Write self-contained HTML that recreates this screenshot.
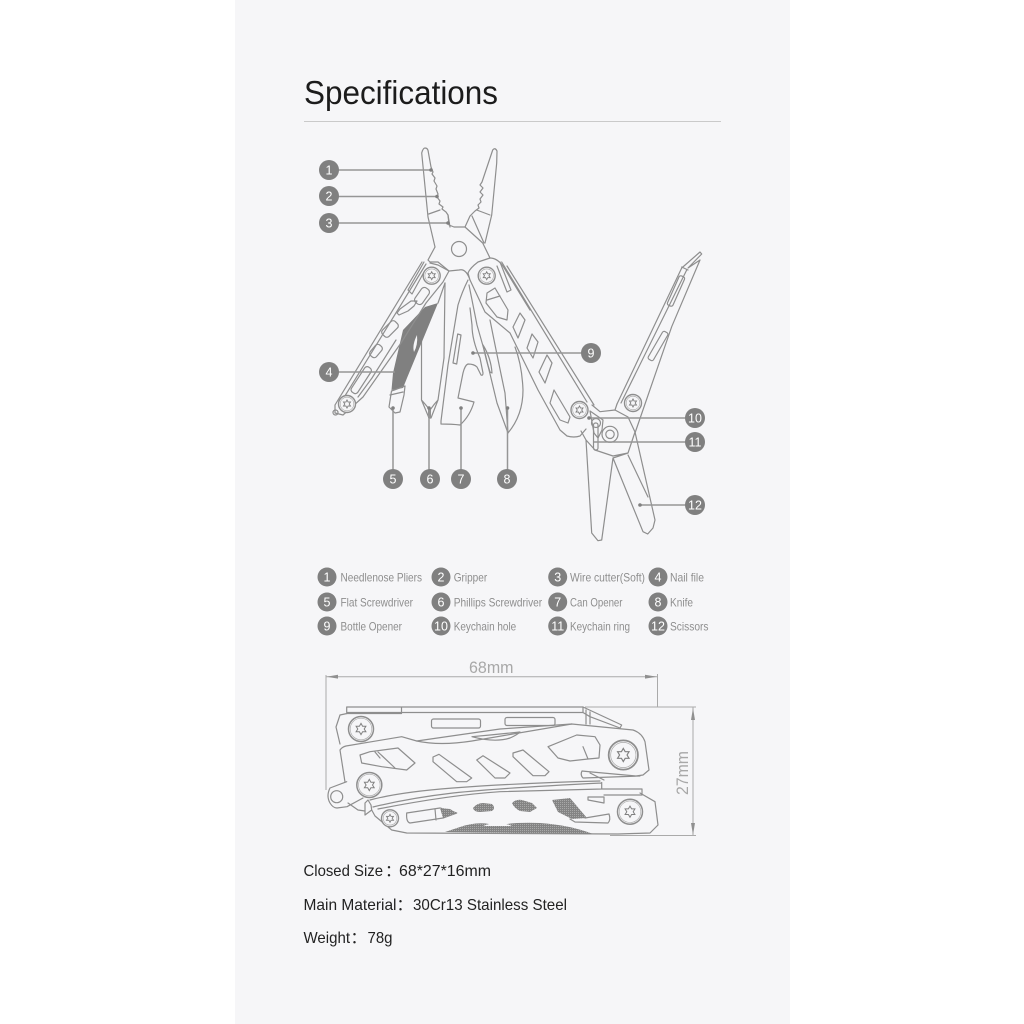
<!DOCTYPE html>
<html><head><meta charset="utf-8"><style>
html,body{margin:0;padding:0;background:#fff}
svg{display:block;filter:blur(.3px)}
text{font-family:"Liberation Sans","Noto Sans CJK SC",sans-serif}
.l{fill:none;stroke:#8e8e8e;stroke-width:1.2;stroke-linejoin:round;stroke-linecap:round}
.c{stroke:#969696;stroke-width:1.5;fill:none}
.n{fill:#fff;font-size:12.5px;text-anchor:middle}
.t{fill:#8e8e8e;font-size:12px}
.b{fill:#222;font-size:16px}
.d{fill:#a8a8a8;font-size:17px}
.dl{stroke:#aaa;stroke-width:1;fill:none}
</style></head><body>
<svg width="1024" height="1024" viewBox="0 0 1024 1024" xmlns="http://www.w3.org/2000/svg">
<defs>
<g id="s"><circle r="8.5" fill="#f6f6f8" stroke="#8e8e8e" stroke-width="1.4"/><circle r="6.8" fill="none" stroke="#a8a8a8" stroke-width=".6"/><polygon points="0,-4 1.1,-1.9 3.5,-2 2.2,0 3.5,2 1.1,1.9 0,4 -1.1,1.9 -3.5,2 -2.2,0 -3.5,-2 -1.1,-1.9" fill="none" stroke="#808080" stroke-width=".9"/></g>
<g id="S"><circle r="12.5" fill="#f6f6f8" stroke="#8e8e8e" stroke-width="1.5"/><circle r="10.8" fill="none" stroke="#a8a8a8" stroke-width=".6"/><polygon points="0,-5.6 1.6,-2.8 4.9,-2.8 3.2,0 4.9,2.8 1.6,2.8 0,5.6 -1.6,2.8 -4.9,2.8 -3.2,0 -4.9,-2.8 -1.6,-2.8" fill="none" stroke="#808080" stroke-width="1"/></g>
<pattern id="h" width="2" height="2" patternUnits="userSpaceOnUse"><rect width="2" height="2" fill="#848484"/><rect width="1" height="1" fill="#a8a8a8"/></pattern>
</defs>
<rect width="1024" height="1024" fill="#fff"/>
<rect x="235" width="555" height="1024" fill="#f6f6f8"/>
<text x="304" y="104" font-size="33" fill="#1c1c1c" textLength="194" lengthAdjust="spacingAndGlyphs">Specifications</text>
<rect x="304" y="121" width="417" height="1" fill="#cacaca"/>

<!-- knife -->
<path class="l" d="M469,285 L477,325 L485,353 L497,403 L508,433 Q523,415 523,390 Q522,365 515,347"/>
<path class="l" d="M490,320 Q498,360 505,393 L508,433"/>
<!-- can/bottle opener -->
<path class="l" d="M468,280 Q462,292 458,305 L448,365 L441,421 L441,424 Q452,424 460,425 Q470,416 474,402 L458,398 L463,373 Q465,365 468,364 Q474,364 477,367 L481,375 Q483,376 483,373 L480,358 Q472,340 472,325 L470,308"/>
<path class="l" d="M483,345 Q491,358 492,373 L490,372 Q486,360 483,345 Z"/>
<path class="l" d="M457.700,334 L461,335 L456.700,364 L453,363 Z"/>
<!-- phillips -->
<path class="l" d="M421.500,340 V400 L429,418 L431,418 L438,400 L434.500,404 L430,410 L425,404 L421.500,400"/>
<path class="l" d="M445,283 L444,358"/>
<path class="l" d="M438,400 L444,358"/>
<rect x="428" y="408" width="3" height="10" fill="#929292"/>
<!-- nail file / flat screwdriver -->
<path d="M438,303 L425,307 L403,330 L393,373 L391.500,390 L403,388 L407,378 Z" fill="#808080"/>
<path d="M417,335 Q412,345 414,352 Q418,345 417,335Z" fill="#f6f6f8"/>
<path class="l" d="M438,303 L445,283 M391.500,391 L389,407 L395,413 L400,412 L404,395 L405,386 L391.500,391 M390,395 L403,392"/>
<!-- left handle -->
<path class="l" d="M422,262 L335,405 L335,413 L343,415 L363,397 L401,343"/>
<path class="l" d="M426,264 L340,404"/>
<path class="l" d="M396,340 L372,378 L358,397"/>
<path class="l" d="M430,263 L438,265 L449,271 L443,282 L426,303 L401,343"/>
<path class="l" d="M424,262 L408,290 L412,294 L424,272"/>
<path class="l" d="M397,313 L400,309 L411,301 L417,301 L414,306 L408,311 L399,315 Z"/>
<rect x="413" y="291.500" width="18" height="9" rx="3.500" transform="rotate(-55 422 296)" class="l"/>
<rect x="381" y="324.500" width="18" height="9" rx="3" transform="rotate(-45 390 329)" class="l"/>
<rect x="369" y="347" width="14" height="8" rx="3" transform="rotate(-50 376 351)" class="l"/>
<rect x="346" y="376.500" width="30" height="7.500" rx="3" transform="rotate(-57 361 380)" class="l"/>
<circle cx="335.500" cy="412.500" r="2.500" class="l"/>
<use href="#s" x="347" y="404"/>
<!-- right handle -->
<path class="l" d="M470,280 L485,312 L510,333 L538,390 L560,430 L567,436 Q574,438 580,436 L586,429"/>
<path class="l" d="M501.700,262 L587,402 M507,266 L594,405"/>
<path class="l" d="M490,258 Q497,258 503,266 L530,310"/>
<path class="l" d="M500,262 L511,290 L507,292 L497,266"/>
<path class="l" d="M487,293 L495,288 L508,310 L507,320 L497,317 L486,303 Z M487,300 L500,296"/>
<path class="l" d="M520,313 L525,320 L518,338 L513,327 Z"/>
<path class="l" d="M532,334 L538,342 L533,358 L527,348 Z"/>
<path class="l" d="M547,355 L552,363 L545,383 L539,372 Z"/>
<path class="l" d="M554,390 L570,417 L568,423 L560,420 L550,403 Z"/>
<!-- pliers -->
<path class="l" d="M435,247 L428,217 L421.700,153 Q423,148 425,148 Q428,148 428.300,152 L431,167 L433,172 L432,174 L435,178 L434,181 L437,186 L436,189 L438,194 L437,197 L440,201 L439,204 L443,207 L442,209 L446,212 L448,215 L449,225 L454,227 L465,227 L470,216 L472,214 L475,211 L479,208 L478,205 L481,202 L480,199 L483,195 L480,192 L483,188 L480,185 L482,182 L492.700,150 Q495,147 497,151 L496.700,163 L491.700,215 L485,243"/>
<path class="l" d="M428.700,214 L440,210 M448,215 L450,227 M476.700,210 L490,215 M472,216 L484,243"/>
<path class="l" d="M465,227 L482.700,243 L490,258 L478,262 Q470,268 468,273 L470,280 Q466,268 459,270 L449,271 L438,262 L430,262 L428,260 L435,247"/>
<circle cx="459" cy="249" r="7.500" class="l"/>
<use href="#s" x="431.700" y="275.700"/>
<use href="#s" x="486.700" y="275.700"/>
<!-- scissors / file arm -->
<path class="l" d="M617,404 L681.700,268 L700,252 L701.700,254 L688,268 L700,260 L671.700,326.700 L635,433"/>
<path class="l" d="M621,403 L686.700,270 M681.700,267 L688,270"/>
<rect x="660" y="288" width="32" height="6" rx="2" transform="rotate(-66 676 291)" class="l"/>
<rect x="642" y="343" width="32" height="6" rx="2" transform="rotate(-60 658 346)" class="l"/>
<path class="l" d="M592,405 L600,411.700 L615,410 L617,404 M615,410 L628,417 L635,432 L655,520 L653,528 L647.700,534 L643,531.700 L613,458 L628,453 M613,458 L601.700,540 L598,540.700 L591.700,533 L586,440 L581,431 M586,440 L595,450 L613,456 L628,453 L635,432"/>
<path class="l" d="M628,455 L648,497"/>
<circle cx="610" cy="434.300" r="8" class="l"/>
<circle cx="610" cy="434.300" r="4.200" class="l"/>
<use href="#s" x="579.500" y="410"/>
<use href="#s" x="633" y="403"/>
<path class="l" d="M590,411 L603,420 L602,430 L598,438 L594,433 Z"/>
<circle cx="596" cy="423" r="4.500" class="l"/>
<rect x="593.500" y="423" width="4.500" height="27" rx="2" class="l"/>

<!-- callout lines -->
<g class="c">
<path d="M329,170H431M329,196.500H437M329,223H448M329,372H395M393,479V408M429,479V408M461,479V408M507.500,479V408M591,353H473M695,418H589M695,442H594M695,505H640"/>
</g>
<g fill="#808080"><circle cx="431" cy="170" r="1.800"/><circle cx="437" cy="196.500" r="1.800"/><circle cx="448" cy="223" r="1.800"/><circle cx="393" cy="408" r="1.800"/><circle cx="429" cy="408" r="1.800"/><circle cx="461" cy="408" r="1.800"/><circle cx="507.500" cy="408" r="1.800"/><circle cx="473" cy="353" r="1.800"/><circle cx="589" cy="418" r="1.800"/><circle cx="640" cy="505" r="1.800"/>
<circle cx="329" cy="170" r="10"/><circle cx="329" cy="196" r="10"/><circle cx="329" cy="223" r="10"/><circle cx="329" cy="372" r="10"/><circle cx="393" cy="479" r="10"/><circle cx="430" cy="479" r="10"/><circle cx="461" cy="479" r="10"/><circle cx="507" cy="479" r="10"/><circle cx="591" cy="353" r="10"/><circle cx="695" cy="418" r="10"/><circle cx="695" cy="442" r="10"/><circle cx="695" cy="505" r="10"/></g>
<g class="n">
<text x="329" y="174.500">1</text><text x="329" y="200.500">2</text><text x="329" y="227.500">3</text><text x="329" y="376.500">4</text><text x="393" y="483.500">5</text><text x="430" y="483.500">6</text><text x="461" y="483.500">7</text><text x="507" y="483.500">8</text><text x="591" y="357.500">9</text><text x="695" y="422.500">10</text><text x="695" y="446.500">11</text><text x="695" y="509.500">12</text>
</g>

<!-- legend -->
<g fill="#808080"><circle cx="327" cy="577" r="9.500"/><circle cx="441" cy="577" r="9.500"/><circle cx="557.700" cy="577" r="9.500"/><circle cx="658" cy="577" r="9.500"/><circle cx="327" cy="602" r="9.500"/><circle cx="441" cy="602" r="9.500"/><circle cx="557.700" cy="602" r="9.500"/><circle cx="658" cy="602" r="9.500"/><circle cx="327" cy="626" r="9.500"/><circle cx="441" cy="626" r="9.500"/><circle cx="557.700" cy="626" r="9.500"/><circle cx="658" cy="626" r="9.500"/></g>
<g class="n">
<text x="327" y="581.300">1</text><text x="441" y="581.300">2</text><text x="557.700" y="581.300">3</text><text x="658" y="581.300">4</text><text x="327" y="606.300">5</text><text x="441" y="606.300">6</text><text x="557.700" y="606.300">7</text><text x="658" y="606.300">8</text><text x="327" y="630.300">9</text><text x="441" y="630.300">10</text><text x="557.700" y="630.300">11</text><text x="658" y="630.300">12</text>
</g>
<g class="t">
<text x="340.500" y="581.500" textLength="81.500" lengthAdjust="spacingAndGlyphs">Needlenose Pliers</text>
<text x="453.700" y="581.500" textLength="33.500" lengthAdjust="spacingAndGlyphs">Gripper</text>
<text x="570" y="581.500" textLength="75" lengthAdjust="spacingAndGlyphs">Wire cutter(Soft)</text>
<text x="670" y="581.500" textLength="34" lengthAdjust="spacingAndGlyphs">Nail file</text>
<text x="340.500" y="606.500" textLength="72.500" lengthAdjust="spacingAndGlyphs">Flat Screwdriver</text>
<text x="453.700" y="606.500" textLength="88.500" lengthAdjust="spacingAndGlyphs">Phillips Screwdriver</text>
<text x="570" y="606.500" textLength="52.500" lengthAdjust="spacingAndGlyphs">Can Opener</text>
<text x="670" y="606.500" textLength="23" lengthAdjust="spacingAndGlyphs">Knife</text>
<text x="340.500" y="630.500" textLength="61.500" lengthAdjust="spacingAndGlyphs">Bottle Opener</text>
<text x="453.700" y="630.500" textLength="62.500" lengthAdjust="spacingAndGlyphs">Keychain hole</text>
<text x="570" y="630.500" textLength="60" lengthAdjust="spacingAndGlyphs">Keychain ring</text>
<text x="670" y="630.500" textLength="38.500" lengthAdjust="spacingAndGlyphs">Scissors</text>
</g>

<!-- dimensions -->
<text class="d" x="469" y="673" textLength="44.500" lengthAdjust="spacingAndGlyphs">68mm</text>
<text class="d" transform="translate(688,795) rotate(-90)" textLength="44" lengthAdjust="spacingAndGlyphs">27mm</text>
<path class="dl" d="M326,675V790M657.500,674V707M326,676.700H657.500M585,707H696M610,835.500H696M693,707V835.500"/>
<g fill="#909090"><polygon points="326.500,676.700 338,674.800 338,678.600"/><polygon points="657,676.700 645,674.800 645,678.600"/><polygon points="693,708 691,720 695,720"/><polygon points="693,835 691,823 695,823"/></g>

<!-- closed tool -->
<path class="l" d="M346.700,707H583V712.500H346.700Z M346.700,713.500H401.500V707"/>
<path class="l" d="M583,707 L621.700,725 L620,728 L590,716.700 L583,712.500 M586,710 V724 M590,712 V724"/>
<path class="l" d="M340,744 L336,727 L340,715 L347,713.500"/>
<path class="l" d="M340,750 L345,782 M340,750 Q342,747 346,746 L401.700,736.700 L416.700,741 Q440,746 472,741 L571.700,724 L633,730 Q642,733 645,741.700 L649,770 L643,775 L636,776 L592,772 L582,771 Q580,775 583,778 L640,776"/>
<path class="l" d="M416.700,741 L500,729 L571.700,724"/>
<path class="l" d="M472,736.700 Q495,743 510,738 Q517,735 520,732 L490,735 Z"/>
<rect x="431.500" y="719" width="49" height="9" rx="2" class="l"/>
<rect x="505" y="717.500" width="50" height="8" rx="2" class="l"/>
<path class="l" d="M360,755 L370,751.700 L398,748 L415,763 L406.700,770 L381.700,766.700 L361.700,763 Z M375,752 L380,758 M378,752 L395,768"/>
<path class="l" d="M433,757 L439,754.300 L471.700,778 L466.700,781.700 L456.700,781.700 L433,761.700 Z"/>
<path class="l" d="M476.700,760 L483,755.700 L510,773 L505,778 L495,778 Z"/>
<path class="l" d="M513,753 L523,750 L549,771.700 L545,775.700 L533,775.700 L513,756.700 Z"/>
<path class="l" d="M548,746.700 L576.700,735 L595,736.700 L600,745 L599,758 L588,759 L570,761 L558,758 Z M583,746.700 L588,759"/>
<path class="l" d="M370,800 Q400,792 453,788 Q520,783 600,781 M373,807 Q410,798 453,793 Q500,788 601.700,783 M378,809 Q450,795 500,791.700 L601.700,789 V782.500 M601.700,789 L642,789 V795 H604"/>
<path class="l" d="M365,815 L371.700,810 L375,816 L391.700,830 L406.700,833 L618,834 L650,833 L658,825 L655,801.700 L640,793 M365,815 L365,803 L368,800 L371,805 L371.700,810"/>
<path class="l" d="M346.700,781.700 L330,788 Q326,796 330,803 Q333,808 337,808 L347,806.700 L363,798 M348,803 L358,810 L365,811"/>
<circle cx="336.700" cy="796.700" r="6" class="l"/>
<path class="l" d="M588,797 H604 V803 L588,800 Z M590,773 L604,780"/>
<path class="l" d="M406.700,813 L440,808 L456.700,813 L443,818 L430,820 L410,823 Q406,822 406.700,813 Z M435,809 L436,820"/>
<path d="M440,808 L450,809 L456.700,813 L443,818 Z" fill="url(#h)"/>
<path d="M473,808 Q477,803 483,803 L492,804 Q496,808 492,811 L480,812 Q474,812 473,808 Z" fill="url(#h)"/>
<path d="M512,803 Q516,799 522,800 L532,803 L537,808 L530,812 L520,811 Q514,808 512,803 Z" fill="url(#h)"/>
<path d="M552,800 L570,798 L587,818 L572,819 L558,812 Z" fill="url(#h)"/>
<path class="l" d="M585,818 L609,814 Q611,820 608,823 L575,822 L570,819"/>
<path d="M445,832 L460,827 Q480,820 497,826 Q510,822 540,823 Q570,825 593,834 Z" fill="url(#h)"/>
<path d="M483,826 Q498,820 512,826 Z" fill="#f6f6f8"/>
<use href="#S" x="361" y="729"/>
<use href="#S" x="369.300" y="785"/>
<g transform="translate(390,818.300)"><use href="#s"/></g>
<use href="#S" x="630" y="811.700"/>
<g transform="translate(623.300,755) scale(1.17)"><use href="#S"/></g>

<text class="b" x="303.500" y="876" textLength="79.500" lengthAdjust="spacingAndGlyphs">Closed Size</text><text class="b" x="385" y="876">：</text><text class="b" x="399" y="876" textLength="92" lengthAdjust="spacingAndGlyphs">68*27*16mm</text>
<text class="b" x="303.500" y="910" textLength="93" lengthAdjust="spacingAndGlyphs">Main Material</text><text class="b" x="396.500" y="910">：</text><text class="b" x="413" y="910" textLength="154" lengthAdjust="spacingAndGlyphs">30Cr13 Stainless Steel</text>
<text class="b" x="303.500" y="943" textLength="46.500" lengthAdjust="spacingAndGlyphs">Weight</text><text class="b" x="350.500" y="943">：</text><text class="b" x="367.500" y="943" textLength="25" lengthAdjust="spacingAndGlyphs">78g</text>
</svg>
</body></html>
